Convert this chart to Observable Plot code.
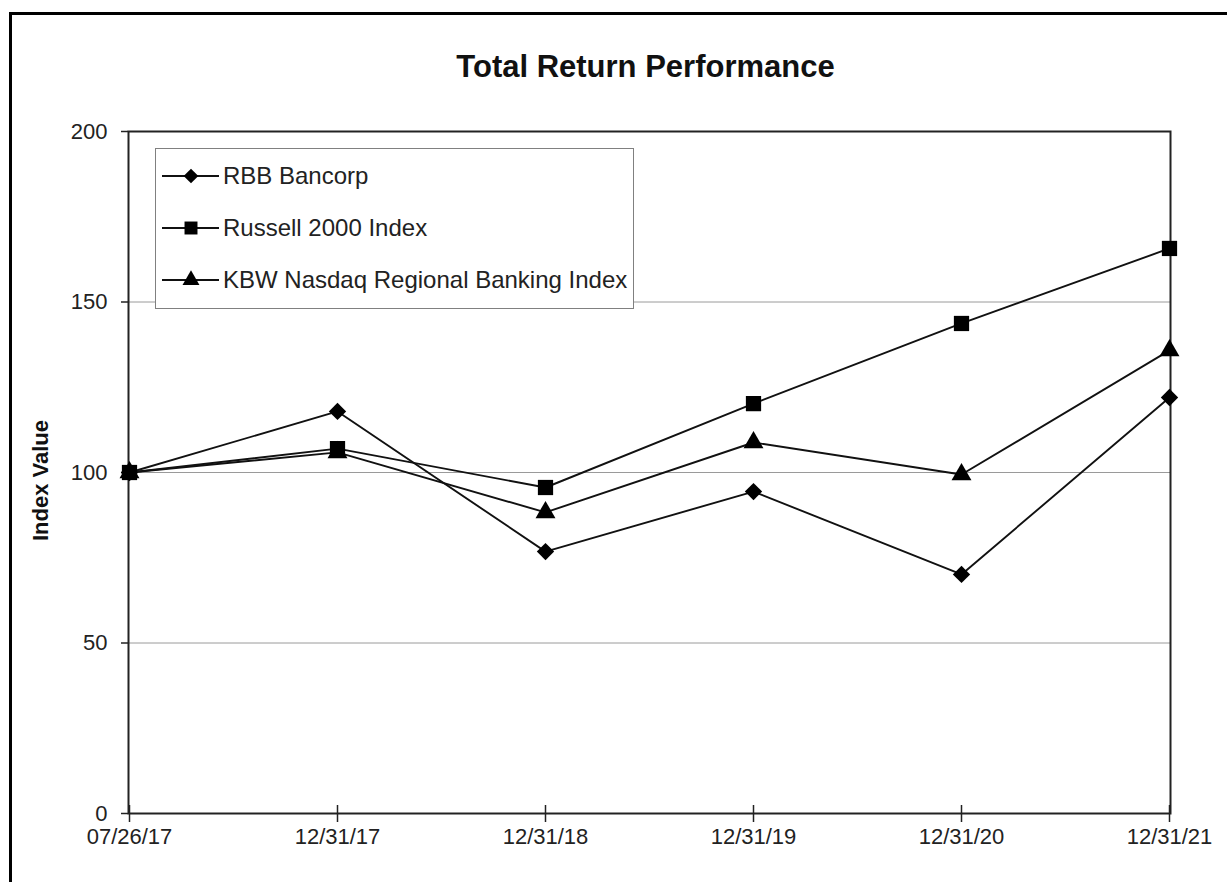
<!DOCTYPE html>
<html>
<head>
<meta charset="utf-8">
<script src="https://cdn.jsdelivr.net/npm/d3@7"></script>
<script src="https://cdn.jsdelivr.net/npm/@observablehq/plot@0.6"></script>
<style>
  html, body { margin: 0; padding: 0; background: #fff; width: 1227px; height: 882px; overflow: hidden; }
  #wrap { position: relative; width: 1227px; height: 882px; }
  #chart { position: absolute; left: 0; top: 0; }
  #outer { position: absolute; left: 9px; top: 12px; width: 1240px; height: 900px; border: 3px solid #000; box-sizing: border-box; pointer-events: none; }
  #legend { position: absolute; left: 155px; top: 148px; width: 479px; height: 161px; border: 1px solid #808080; background: #fff; box-sizing: border-box; }
</style>
</head>
<body>
<div id="wrap">
  <div id="chart"></div>
  <div id="legend"></div>
  <div id="outer"></div>
</div>
<script>
const dates = ["07/26/17", "12/31/17", "12/31/18", "12/31/19", "12/31/20", "12/31/21"];
const seriesNames = ["RBB Bancorp", "Russell 2000 Index", "KBW Nasdaq Regional Banking Index"];
const rbbValues = [100, 117.9, 76.8, 94.4, 70.1, 122.0];
const russellValues = [100, 107.0, 95.6, 120.2, 143.7, 165.7];
const kbwValues = [100, 105.9, 88.3, 108.8, 99.4, 135.8];
const yTicks = [0, 50, 100, 150, 200];
const gridValues = [50, 100, 150];
const titleText = "Total Return Performance";
const yLabel = "Index Value";

const symbols = {"RBB Bancorp": "diamond2", "Russell 2000 Index": "square", "KBW Nasdaq Regional Banking Index": "triangle"};
const radii = {"RBB Bancorp": 7.8, "Russell 2000 Index": 8.6, "KBW Nasdaq Regional Banking Index": 7.4};

const valuesBySeries = {
  "RBB Bancorp": rbbValues,
  "Russell 2000 Index": russellValues,
  "KBW Nasdaq Regional Banking Index": kbwValues
};
// draw order: KBW, RBB, Russell (Russell on top)
const drawOrder = ["KBW Nasdaq Regional Banking Index", "RBB Bancorp", "Russell 2000 Index"];
const data = drawOrder.flatMap(s => dates.map((d, i) => ({series: s, date: d, value: valuesBySeries[s][i]})));

const FONT = "'Liberation Sans', Arial, Helvetica, sans-serif";

const seriesMarks = drawOrder.flatMap(s => {
  const rows = data.filter(d => d.series === s);
  return [
    Plot.line(rows, {x: "date", y: "value", stroke: "#111", strokeWidth: 1.9}),
    Plot.dot(rows, {x: "date", y: "value", symbol: () => symbols[s], r: radii[s], fill: "#000", stroke: "none"})
  ];
});

const chart = Plot.plot({
  width: 1227,
  height: 882,
  marginLeft: 128,
  marginRight: 57,
  marginTop: 131,
  marginBottom: 69,
  style: {fontFamily: FONT, color: "#222", background: "transparent", overflow: "visible"},
  x: {type: "point", domain: dates, padding: 0, label: null},
  y: {domain: [0, 200], label: null},
  symbol: {type: "identity"},
  marks: [
    Plot.ruleY(gridValues, {stroke: "#9a9a9a", strokeWidth: 1}),
    Plot.frame({stroke: "#222", strokeWidth: 2}),
    Plot.axisY(yTicks, {tickSize: 7, tickPadding: 14, fontSize: 22, stroke: "#222", strokeWidth: 1.5, label: null, fill: "#222"}),
    Plot.axisX({tickSize: 17, dy: -8, tickFormat: () => "", stroke: "#222", strokeWidth: 1.5, label: null}),
    Plot.axisX({tickSize: 0, tickPadding: 15, fontSize: 22, label: null, fill: "#222"}),
    ...seriesMarks,
    Plot.text([titleText], {frameAnchor: "top", dy: -64, dx: -4, fontSize: 31, fontWeight: "bold", fill: "#111", lineAnchor: "middle"}),
    Plot.text([yLabel], {frameAnchor: "left", dx: -88, dy: 8, rotate: -90, textAnchor: "middle", fontSize: 22, fontWeight: "bold", fill: "#111"})
  ]
});
document.getElementById("chart").appendChild(chart);

// Legend
const lg = d3.select("#legend").append("svg").attr("width", 477).attr("height", 159).style("display", "block");
const rowY = [27, 79, 131];
seriesNames.forEach((s, i) => {
  const g = lg.append("g").attr("transform", `translate(0,${rowY[i]})`);
  g.append("line").attr("x1", 6).attr("x2", 63).attr("y1", 0).attr("y2", 0).attr("stroke", "#111").attr("stroke-width", 1.9);
  const symType = {diamond2: d3.symbolDiamond2, square: d3.symbolSquare, triangle: d3.symbolTriangle}[symbols[s]];
  const r = radii[s] * 0.85;
  g.append("path").attr("d", d3.symbol(symType, r * r * Math.PI)()).attr("transform", "translate(35,0)").attr("fill", "#000");
  g.append("text").attr("x", 67).attr("y", 0).attr("dy", "0.35em").attr("font-family", FONT).attr("font-size", 24).attr("fill", "#222").text(s);
});
</script>
</body>
</html>
